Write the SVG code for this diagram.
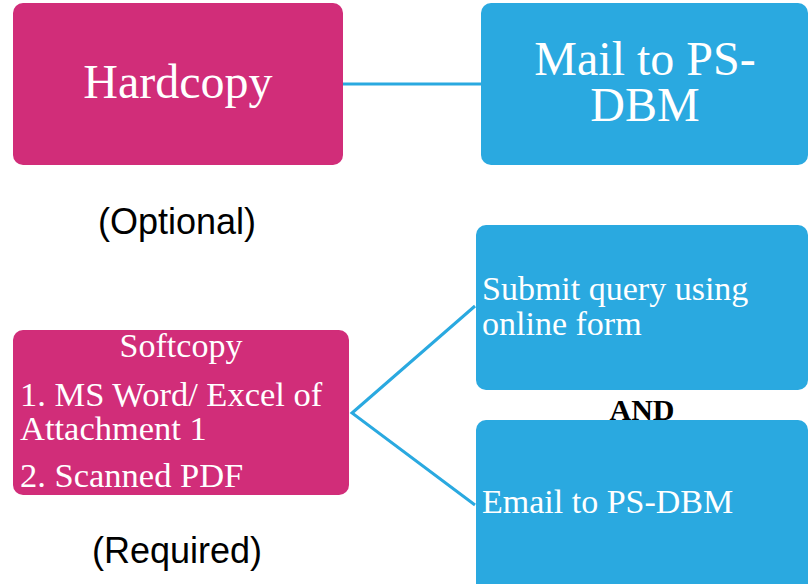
<svg xmlns="http://www.w3.org/2000/svg" width="809" height="584" viewBox="0 0 809 584">
  <style>
    .pink { fill: #d12d79; }
    .blue { fill: #2aa9e0; }
    .box-text { font-family: "Liberation Serif", "Times New Roman", serif; fill: #ffffff; }
    .note { font-family: "Liberation Sans", Arial, sans-serif; font-size: 36px; fill: #000000; }
    .link { stroke: #2aa9e0; stroke-width: 3; fill: none; }
  </style>
  <rect width="809" height="584" fill="#ffffff"/>

  <g id="connectors">
    <line class="link" x1="343" y1="84" x2="482" y2="84"/>
    <polyline class="link" points="475,306 352,413 475,505"/>
  </g>

  <g id="hardcopy">
    <rect class="pink" x="13" y="3" width="330" height="162" rx="10"/>
    <text class="box-text" x="178" y="98" font-size="48" text-anchor="middle">Hardcopy</text>
  </g>

  <g id="mail">
    <rect class="blue" x="481" y="3" width="327" height="162" rx="10"/>
    <text class="box-text" x="645" y="75" font-size="48" text-anchor="middle">Mail to PS-</text>
    <text class="box-text" x="645" y="121" font-size="48" text-anchor="middle">DBM</text>
  </g>

  <g id="optional-label">
    <text class="note" x="177" y="234" text-anchor="middle">(Optional)</text>
  </g>

  <g id="softcopy">
    <rect class="pink" x="13" y="330" width="336" height="165" rx="10"/>
    <text class="box-text" x="181" y="357" font-size="34" text-anchor="middle">Softcopy</text>
    <text class="box-text" x="20" y="406" font-size="34.5">1. MS Word/ Excel of</text>
    <text class="box-text" x="20" y="440" font-size="34.5">Attachment 1</text>
    <text class="box-text" x="20" y="487" font-size="34.5">2. Scanned PDF</text>
  </g>

  <g id="required-label">
    <text class="note" x="177" y="563" text-anchor="middle">(Required)</text>
  </g>

  <g id="submit">
    <rect class="blue" x="476" y="225" width="332" height="165" rx="10"/>
    <text class="box-text" x="482" y="300" font-size="34">Submit query using</text>
    <text class="box-text" x="482" y="335" font-size="34">online form</text>
  </g>

  <g id="and-label">
    <text x="642" y="420" font-family="Liberation Serif, 'Times New Roman', serif" font-size="30" font-weight="bold" fill="#000000" text-anchor="middle">AND</text>
  </g>

  <g id="email">
    <rect class="blue" x="476" y="420" width="332" height="174" rx="10"/>
    <text class="box-text" x="482" y="513" font-size="34">Email to PS-DBM</text>
  </g>
</svg>
